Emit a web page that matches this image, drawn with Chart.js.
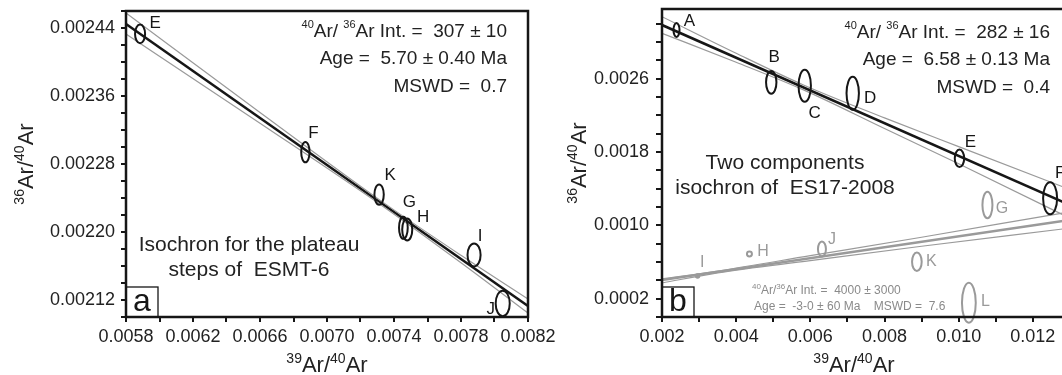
<!DOCTYPE html>
<html lang="en">
<head>
<meta charset="UTF-8">
<title>Ar-Ar isochrons</title>
<script src="https://cdn.jsdelivr.net/npm/chart.js"></script>
<style>
  html, body { margin: 0; padding: 0; background: #fff; overflow: hidden; }
  #wrap { position: relative; width: 1062px; height: 375px; overflow: hidden; background: #fff; }
  .panel { position: absolute; top: 0; height: 375px; }
  #panelA { left: 0; width: 560px; }
  #panelB { left: 540px; width: 600px; }
</style>
</head>
<body>
<div id="wrap">
  <div class="panel" id="panelA"><canvas id="chartA"></canvas></div>
  <div class="panel" id="panelB"><canvas id="chartB"></canvas></div>
</div>
<script>
// ---- panel a : plateau steps of ESMT-6 ----
const aSteps = ['E', 'F', 'K', 'G', 'H', 'I', 'J'];
const aX = [0.005884, 0.006871, 0.007311, 0.007456, 0.007479, 0.007878, 0.008049];
const aY = [0.002433, 0.002294, 0.002244, 0.002205, 0.002203, 0.002173, 0.002116];
const aErrX = [3.0e-5, 2.5e-5, 2.8e-5, 2.6e-5, 3.0e-5, 3.9e-5, 4.2e-5];
const aErrY = [1.1e-5, 1.2e-5, 1.2e-5, 1.3e-5, 1.3e-5, 1.35e-5, 1.5e-5];
const aFitX = [0.0058, 0.0082];
const aFitY = [0.0024447, 0.0021129];
const aEnvX = [0.0058, 0.0066, 0.00735, 0.0078, 0.0082];
const aEnvHi = [0.0024576, 0.0023407, 0.0022328, 0.0021726, 0.0021211];
const aEnvLo = [0.0024329, 0.0023280, 0.0022280, 0.0021638, 0.0021047];

// ---- panel b : two components of ES17-2008 ----
const b1Steps = ['A', 'B', 'C', 'D', 'E', 'F'];
const b1X = [0.002391, 0.004946, 0.005849, 0.007143, 0.010022, 0.012466];
const b1Y = [0.003131, 0.002560, 0.002523, 0.002440, 0.001731, 0.001295];
const b1ErrX = [8.1e-5, 1.4e-4, 1.67e-4, 1.67e-4, 1.27e-4, 1.89e-4];
const b1ErrY = [7.6e-5, 1.25e-4, 1.75e-4, 1.8e-4, 9.5e-5, 1.75e-4];
const b2Steps = ['G', 'H', 'I', 'J', 'K', 'L'];
const b2X = [0.010776, 0.004358, 0.002960, 0.006313, 0.008873, 0.010275];
const b2Y = [0.001222, 0.000687, 0.000447, 0.000742, 0.000603, 0.000156];
const b2ErrX = [1.35e-4, 6.7e-5, 4.6e-5, 1.08e-4, 1.3e-4, 1.86e-4];
const b2ErrY = [1.45e-4, 2.7e-5, 1.85e-5, 8.2e-5, 1.0e-4, 2.18e-4];
const b1FitX = [0.002, 0.014];
const b1FitY = [0.003185, 0.001044];
const b1EnvX = [0.002, 0.004, 0.0058, 0.008, 0.010, 0.014];
const b1EnvHi = [0.003276, 0.002877, 0.002534, 0.002172, 0.001858, 0.001235];
const b1EnvLo = [0.003095, 0.002779, 0.002480, 0.002056, 0.001671, 0.000880];
const b2FitX = [0.002, 0.014];
const b2FitY = [0.000404, 0.001118];
const b2EnvX = [0.002, 0.0035, 0.006, 0.009, 0.0128, 0.014];
const b2EnvHi = [0.000415, 0.000502, 0.000669, 0.000870, 0.001134, 0.001216];
const b2EnvLo = [0.000371, 0.000482, 0.000615, 0.000772, 0.000960, 0.001020];

const FONT = '"Liberation Sans", Arial, Helvetica, sans-serif';
const INK = '#161616';
const GREY = '#9a9a9a';
Chart.defaults.font.family = FONT;
Chart.defaults.color = '#222';

function pts(xs, ys) { return xs.map((x, i) => ({ x: x, y: ys[i] })); }

function lineSet(xs, ys, color, width) {
  return {
    data: pts(xs, ys), showLine: true, borderColor: color, borderWidth: width,
    pointRadius: 0, pointHoverRadius: 0, fill: false,
    cubicInterpolationMode: xs.length > 2 ? 'monotone' : 'default'
  };
}

function stepSet(names, xs, ys, ex, ey, color, labelSize, offsets) {
  return {
    data: pts(xs, ys), showLine: false, pointRadius: 0, pointHoverRadius: 0,
    borderColor: color, names: names, errX: ex, errY: ey,
    labelSize: labelSize, labelOffsets: offsets
  };
}

// label only every n-th tick, the rest keep just their tick mark
function tickLabel(step, every, rem, dec) {
  return function (v) {
    const k = Math.round(v / step);
    if (Math.abs(v / step - k) > 1e-6) return '';
    return (((k % every) + every) % every === rem) ? v.toFixed(dec) : '';
  };
}

function axis(o) {
  return {
    type: 'linear', min: o.min, max: o.max,
    grid: { display: true, drawOnChartArea: false, drawTicks: true, tickLength: o.tickLen,
            tickWidth: 2, tickColor: INK, lineWidth: 2, color: INK },
    border: { display: false },
    ticks: { stepSize: o.step, includeBounds: false, autoSkip: false, maxRotation: 0, minRotation: 0,
             padding: o.pad, font: { size: 18 }, color: '#222',
             callback: tickLabel(o.step, o.every, o.rem, o.dec) },
    afterFit: function (s) {
      if (o.isX) { s.height = o.size; s.paddingLeft = 0; s.paddingRight = 0; }
      else { s.width = o.size; s.paddingTop = 0; s.paddingBottom = 0; }
    }
  };
}

// text with superscript parts: [[text, isSup], ...]; y is the baseline
function rich(ctx, parts, x, y, align, size, supSize, raise, color) {
  ctx.save();
  ctx.fillStyle = color;
  ctx.textBaseline = 'alphabetic';
  ctx.textAlign = 'left';
  let w = 0;
  parts.forEach(p => { ctx.font = (p[1] ? supSize : size) + 'px ' + FONT; w += ctx.measureText(p[0]).width; });
  let cx = align === 'right' ? x - w : (align === 'center' ? x - w / 2 : x);
  parts.forEach(p => {
    ctx.font = (p[1] ? supSize : size) + 'px ' + FONT;
    ctx.fillText(p[0], cx, p[1] ? y - raise : y);
    cx += ctx.measureText(p[0]).width;
  });
  ctx.restore();
}

const ratioTitle = [['39', 1], ['Ar/', 0], ['40', 1], ['Ar', 0]];
const yRatioTitle = [['36', 1], ['Ar/', 0], ['40', 1], ['Ar', 0]];

function decor(p) {
  return {
    id: 'decor',
    afterDatasetsDraw(chart) {
      const ctx = chart.ctx, x = chart.scales.x, y = chart.scales.y;
      chart.data.datasets.forEach(ds => {
        if (!ds.errX) return;
        ctx.save();
        ctx.strokeStyle = ds.borderColor;
        ctx.fillStyle = ds.borderColor;
        ctx.lineWidth = 2;
        ctx.font = ds.labelSize + 'px ' + FONT;
        ctx.textAlign = 'center';
        ctx.textBaseline = 'middle';
        ds.data.forEach((pt, i) => {
          const cx = x.getPixelForValue(pt.x), cy = y.getPixelForValue(pt.y);
          const rx = Math.abs(x.getPixelForValue(pt.x + ds.errX[i]) - cx);
          const ry = Math.abs(y.getPixelForValue(pt.y + ds.errY[i]) - cy);
          ctx.beginPath();
          ctx.ellipse(cx, cy, rx, ry, 0, 0, Math.PI * 2);
          ctx.stroke();
          const off = ds.labelOffsets[i];
          ctx.fillText(ds.names[i], cx + off[0], cy + off[1]);
        });
        ctx.restore();
      });
    },
    afterDraw(chart) {
      const ctx = chart.ctx, a = chart.chartArea;
      ctx.save();
      // frame
      ctx.strokeStyle = INK;
      ctx.lineWidth = 2.5;
      ctx.strokeRect(a.left, a.top, a.right - a.left, a.bottom - a.top);
      // panel letter
      ctx.lineWidth = 1.3;
      ctx.strokeRect(a.left, a.bottom - 30, 32, 30);
      ctx.fillStyle = INK;
      ctx.font = '32px ' + FONT;
      ctx.textAlign = 'center';
      ctx.textBaseline = 'alphabetic';
      ctx.fillText(p.letter, a.left + 16, a.bottom - 6);
      ctx.restore();
      // isochron results
      p.stats.forEach(s => rich(ctx, s[0], p.statsX, s[1], 'right', 19, 11, 9, '#222'));
      // caption
      ctx.save();
      ctx.fillStyle = '#222';
      ctx.font = '21px ' + FONT;
      ctx.textAlign = 'center';
      ctx.textBaseline = 'alphabetic';
      p.caption.forEach((t, i) => ctx.fillText(t, p.captionX, p.captionY[i]));
      ctx.restore();
      (p.extra || []).forEach(s => rich(ctx, s[0], s[1], s[2], 'left', 12, 8, 5, '#8a8a8a'));
      // axis titles
      rich(ctx, ratioTitle, p.xTitleX, 372, 'center', 22, 14, 9, '#222');
      ctx.save();
      ctx.translate(p.yTitleX, (a.top + a.bottom) / 2);
      ctx.rotate(-Math.PI / 2);
      rich(ctx, yRatioTitle, 0, 0, 'center', 22, 14, 9, '#222');
      ctx.restore();
    }
  };
}

function baseOptions(xAxis, yAxis, pad) {
  return {
    responsive: true, maintainAspectRatio: false, animation: false, events: [],
    layout: { padding: pad },
    plugins: { legend: { display: false }, tooltip: { enabled: false } },
    scales: { x: xAxis, y: yAxis }
  };
}

// panel a
new Chart(document.getElementById('chartA'), {
  type: 'scatter',
  data: {
    datasets: [
      lineSet(aEnvX, aEnvHi, GREY, 1.2),
      lineSet(aEnvX, aEnvLo, GREY, 1.2),
      lineSet(aFitX, aFitY, INK, 2.6),
      stepSet(aSteps, aX, aY, aErrX, aErrY, INK, 17,
        [[15, -11], [8, -19], [11, -19], [6, -25], [16, -12], [6, -19], [-12, 6]])
    ]
  },
  options: baseOptions(
    axis({ min: 0.0058, max: 0.0082, step: 0.0002, every: 2, rem: 1, dec: 4, tickLen: 5, pad: 4, size: 58, isX: true }),
    axis({ min: 0.0021, max: 0.00246, step: 0.00002, every: 4, rem: 2, dec: 5, tickLen: 5, pad: 6, size: 126 }),
    { top: 11, right: 32, left: 0, bottom: 0 }),
  plugins: [decor({
    letter: 'a',
    statsX: 507,
    stats: [
      [[['40', 1], ['Ar/ ', 0], ['36', 1], ['Ar Int. =  307 ± 10', 0]], 37],
      [[['Age =  5.70 ± 0.40 Ma', 0]], 64],
      [[['MSWD =  0.7', 0]], 92]
    ],
    caption: ['Isochron for the plateau', 'steps of  ESMT-6'],
    captionX: 249, captionY: [250.5, 275.5],
    xTitleX: 327, yTitleX: 33
  })]
});

// panel b
new Chart(document.getElementById('chartB'), {
  type: 'scatter',
  data: {
    datasets: [
      lineSet(b1EnvX, b1EnvHi, GREY, 1.2),
      lineSet(b1EnvX, b1EnvLo, GREY, 1.2),
      lineSet(b1FitX, b1FitY, INK, 2.6),
      lineSet(b2EnvX, b2EnvHi, GREY, 1.2),
      lineSet(b2EnvX, b2EnvLo, GREY, 1.2),
      lineSet(b2FitX, b2FitY, GREY, 2.6),
      stepSet(b1Steps, b1X, b1Y, b1ErrX, b1ErrY, INK, 17,
        [[13, -8.5], [3, -25.5], [10, 27.5], [17.5, 5], [11, -16.5], [10, -25]]),
      stepSet(b2Steps, b2X, b2Y, b2ErrX, b2ErrY, GREY, 16,
        [[14.5, 3.5], [13.5, -2.5], [4.5, -13.5], [10, -9.5], [14.5, 0], [16.5, -1]])
    ]
  },
  options: baseOptions(
    axis({ min: 0.002, max: 0.014, step: 0.001, every: 2, rem: 0, dec: 3, tickLen: 5, pad: 4, size: 58, isX: true }),
    axis({ min: 0, max: 0.00336, step: 0.0002, every: 4, rem: 1, dec: 4, tickLen: 6, pad: 7, size: 122 }),
    { top: 9, right: 33, left: 0, bottom: 0 }),
  plugins: [decor({
    letter: 'b',
    statsX: 510,
    stats: [
      [[['40', 1], ['Ar/ ', 0], ['36', 1], ['Ar Int. =  282 ± 16', 0]], 37.5],
      [[['Age =  6.58 ± 0.13 Ma', 0]], 65],
      [[['MSWD =  0.4', 0]], 93]
    ],
    caption: ['Two components', 'isochron of  ES17-2008'],
    captionX: 245, captionY: [169, 194],
    extra: [
      [[['40', 1], ['Ar/', 0], ['36', 1], ['Ar Int. =  4000 ± 3000', 0]], 212, 293.5],
      [[['Age =  -3-0 ± 60 Ma    MSWD =  7.6', 0]], 214, 309.5]
    ],
    xTitleX: 314, yTitleX: 46
  })]
});
</script>
</body>
</html>
